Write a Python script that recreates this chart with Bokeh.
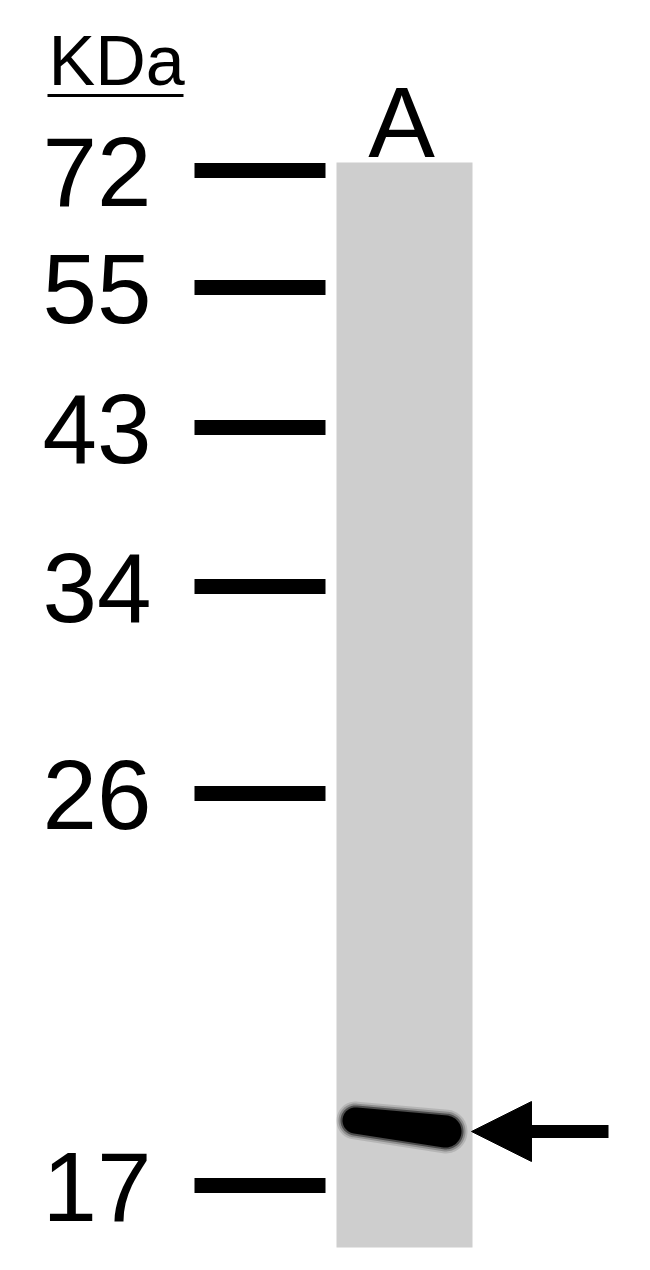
import numpy as np
from bokeh.plotting import figure
from bokeh.models import Range1d, Arrow, NormalHead, ColumnDataSource
from bokeh.core.properties import value
from bokeh.embed import file_html
from bokeh.resources import INLINE

# ---- data (read from the blot) ----
marker_kda = ["72", "55", "43", "34", "26", "17"]
marker_migration = [170, 287, 427, 586, 793, 1185]   # migration distance (image units, from top)
lane_names = ["A"]
band_lane = ["A"]
band_migration_left = [1120]    # band runs slightly tilted across lane
band_migration_right = [1131]
arrow_migration = [1131]

# ---- layout constants ----
FONT = value("Liberation Sans")
lane_center = {"A": 404}
lane_half_w = 68
lane_top, lane_bottom = 162, 1247
bar_x0, bar_x1 = 194, 325
label_right = 151

p = figure(width=634, height=1254, x_range=Range1d(0, 634), y_range=Range1d(1254, 0),
           output_backend="svg", toolbar_location=None, min_border=0)
p.axis.visible = False
p.grid.visible = False
p.outline_line_color = None
p.background_fill_color = "white"
p.border_fill_color = "white"

# lane
lc = [lane_center[n] for n in lane_names]
p.quad(left=[c - lane_half_w for c in lc], right=[c + lane_half_w for c in lc],
       top=[lane_top] * len(lc), bottom=[lane_bottom] * len(lc),
       fill_color="#cecece", line_color=None)

# lane label
p.text(x=[c - 3 for c in lc], y=[121] * len(lc), text=lane_names, text_font=FONT,
       text_font_size="100px", text_align="center", text_baseline="alphabetic",
       text_color="black")

# KDa title + underline
p.text(x=[48], y=[60], text=["KDa"], text_font=FONT, text_font_size="70px",
       text_align="left", text_baseline="alphabetic", text_color="black")
p.segment(x0=[47], x1=[183], y0=[95], y1=[95], line_width=3, line_color="black")

# marker ladder
src = ColumnDataSource(dict(kda=marker_kda, y=marker_migration,
                            ytext=[m + 1 for m in marker_migration]))
p.segment(x0=bar_x0, x1=bar_x1, y0="y", y1="y", source=src, line_width=15,
          line_color="black", line_cap="butt")
p.text(x=label_right, y="ytext", text="kda", source=src, text_font=FONT,
       text_font_size="98px", text_align="right", text_baseline="alphabetic",
       text_color="black")

# band (tapered blob with rounded ends)
def blob(cx0, cy0, r0, cx1, cy1, r1, n=40):
    ang = np.arctan2(cy1 - cy0, cx1 - cx0)
    a_right = np.linspace(ang - np.pi / 2, ang + np.pi / 2, n)
    a_left = np.linspace(ang + np.pi / 2, ang + 3 * np.pi / 2, n)
    xs = np.concatenate([cx1 + r1 * np.cos(a_right), cx0 + r0 * np.cos(a_left)])
    ys = np.concatenate([cy1 + r1 * np.sin(a_right), cy0 + r0 * np.sin(a_left)])
    return xs, ys

for name, yl, yr in zip(band_lane, band_migration_left, band_migration_right):
    c = lane_center[name]
    for grow, alpha in [(6, 0.12), (4, 0.22), (2, 0.45), (0, 1.0)]:
        xs, ys = blob(c - 49, yl, 13 + grow, c + 41, yr, 16 + grow)
        p.patch(xs, ys, fill_color="black", fill_alpha=alpha, line_color=None)

# arrow pointing at band
for ya in arrow_migration:
    p.add_layout(Arrow(end=NormalHead(size=60, fill_color="black", line_color="black", line_width=1),
                       x_start=608, y_start=ya, x_end=lane_center["A"] + lane_half_w - 1, y_end=ya,
                       line_width=13, line_color="black"))

open("out.html", "w").write(file_html(p, INLINE))
